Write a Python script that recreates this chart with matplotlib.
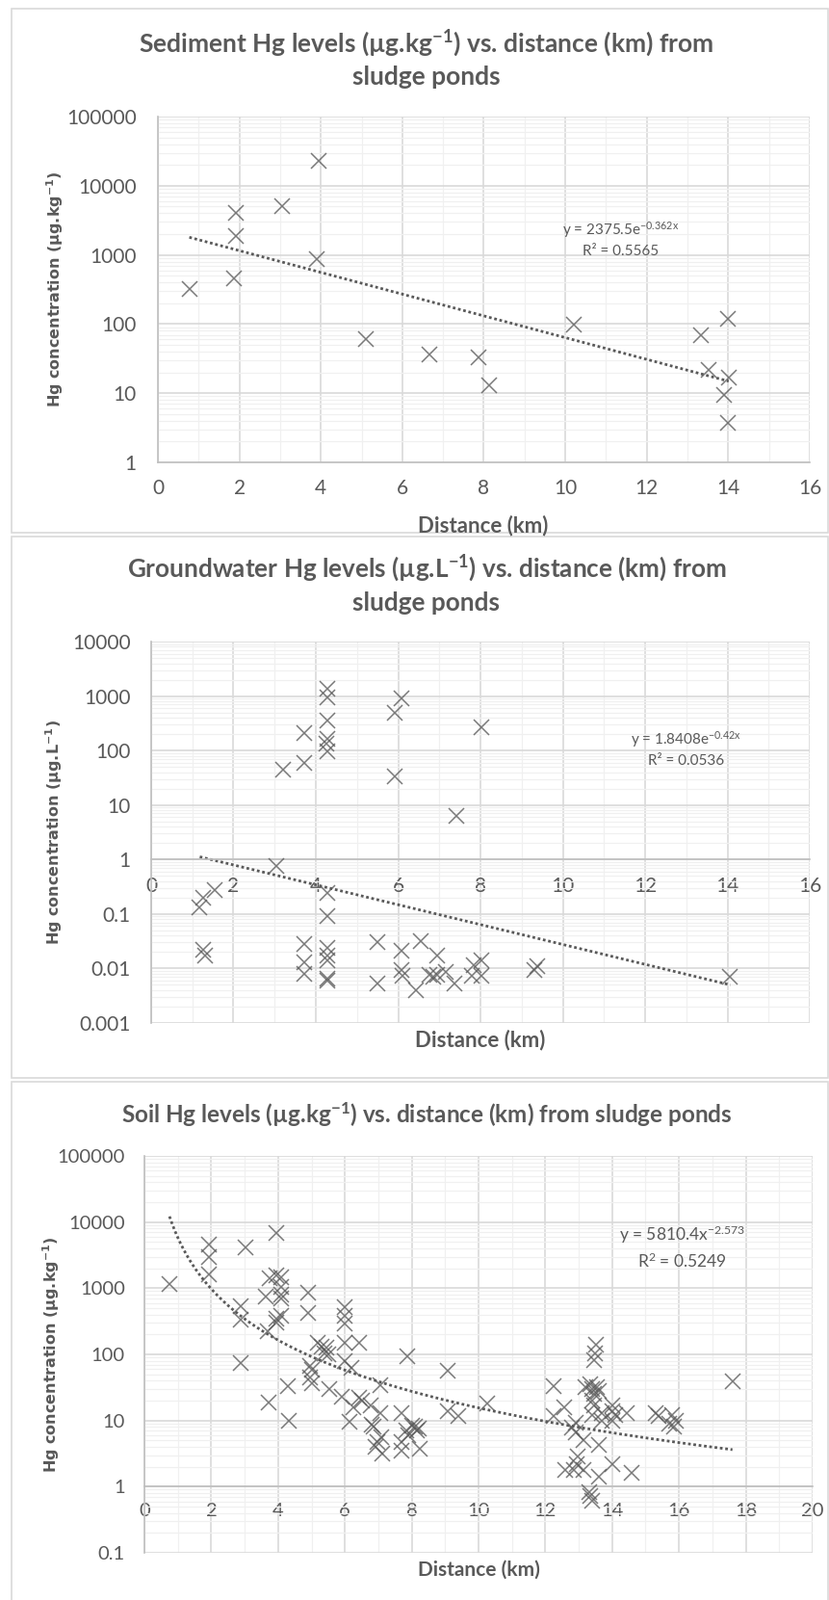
import numpy as np
import matplotlib
matplotlib.use('Agg')
import matplotlib.pyplot as plt
from matplotlib.ticker import LogLocator, MultipleLocator, FuncFormatter, NullFormatter
from matplotlib.patches import Rectangle

plt.rcParams['font.family'] = ['Lato', 'DejaVu Sans']
plt.rcParams['mathtext.default'] = 'regular'

# ---- sediment (ug/kg) ----
sed_dist = [0.77, 1.91, 1.91, 1.87, 3.04, 3.94, 3.90, 5.10, 6.66, 7.87, 8.12,
            10.21, 13.34, 13.52, 13.99, 14.01, 13.90, 14.00]
sed_hg = [318, 4100, 1860, 457, 5140, 23000, 860, 60, 36, 33, 12.9,
          99, 70, 22, 119, 17, 9.3, 3.7]

# ---- groundwater (ug/L) ----
gw_dist = [1.18, 1.26, 1.55, 1.26, 1.32, 3.03, 3.20, 3.73, 3.73, 3.73, 3.73, 3.73,
           4.27, 4.27, 4.29, 4.27, 4.25, 4.27, 4.27, 4.29, 4.27, 4.27, 4.29, 4.27, 4.29,
           5.49, 5.49, 5.92, 6.09, 5.92, 6.08, 6.08, 6.10, 6.43, 6.56, 6.94,
           6.75, 6.85, 6.95, 7.15, 7.37, 7.42, 7.84, 7.78, 8.03, 8.03, 8.02,
           9.30, 9.38, 14.07]
gw_hg = [0.13, 0.20, 0.27, 0.022, 0.017, 0.77, 45, 210, 59, 0.028, 0.013, 0.008,
         1350, 950, 360, 165, 135, 95, 0.24, 0.092, 0.024, 0.017, 0.014, 0.0065, 0.006,
         0.030, 0.0054, 490, 900, 33, 0.021, 0.0095, 0.0072, 0.0040, 0.032, 0.017,
         0.0075, 0.0070, 0.0078, 0.0085, 0.0054, 6.4, 0.0117, 0.0072, 0.014, 0.0072, 265,
         0.0093, 0.011, 0.0070]

# ---- soil (ug/kg) ----
soil_dist = [0.75,
             1.92, 1.92, 1.92,
             2.88, 2.88, 2.88,
             3.03,
             3.63, 3.70, 3.73, 3.75,
             3.94, 3.94, 3.94, 3.94,
             4.09, 4.09, 4.09, 4.09, 4.09,
             4.28, 4.31,
             4.90, 4.90, 4.95, 4.95, 5.02, 5.02,
             5.19, 5.30, 5.45, 5.40, 5.50, 5.53,
             6.00, 6.00, 6.00, 6.00, 6.00,
             6.20, 6.42, 5.91, 6.25, 6.13, 6.44, 6.50, 6.78,
             7.07, 7.07, 6.80, 6.85, 6.97, 6.92, 7.10, 7.12,
             7.70, 7.70, 7.70, 7.87, 7.85, 7.90, 8.00, 8.10, 8.15, 8.20, 8.25,
             9.09, 9.09, 9.40, 10.25,
             12.24, 12.24, 12.56, 12.80, 12.90, 12.90, 13.13, 12.97, 12.60, 12.85, 13.13, 12.95,
             13.52, 13.47, 13.50, 13.20, 13.35, 13.40, 13.55, 13.60, 13.45, 13.40, 13.45, 13.40,
             13.70, 13.70, 14.00, 14.00, 14.00, 14.10, 14.43,
             13.60, 14.00, 13.60, 14.59, 13.30, 13.35, 13.40,
             15.30, 15.40, 15.80, 15.90, 15.70, 15.85,
             17.60]
soil_hg = [1150,
           4600, 3000, 1600,
           530, 340, 73,
           4100,
           740, 225, 19, 1400,
           6900, 1550, 350, 300,
           1450, 1050, 800, 700, 380,
           33, 10,
           860, 430, 66, 45, 58, 36,
           150, 130, 125, 105, 100, 30,
           520, 380, 290, 150, 78,
           62, 150, 23, 16, 9.6, 22, 20, 17,
           34, 13, 8.7, 8.0, 4.7, 4.0, 5.6, 3.2,
           13, 4.7, 3.5, 92, 7.0, 6.0, 8.5, 8.0, 7.0, 7.6, 3.8,
           56, 13.8, 11.5, 17.8,
           33, 11.8, 15.8, 7.8, 9.3, 6.6, 5.0, 2.9, 1.8, 1.8, 1.8, 2.2,
           138, 83, 105, 32, 35, 30, 32, 28, 25, 20, 17, 12,
           13, 10, 14, 10, 17, 12, 13,
           4.3, 2.2, 1.4, 1.6, 0.82, 0.72, 0.62,
           13, 11.5, 12, 10, 9, 8,
           39]

# trendline coefficients shown on the chart
sed_a, sed_b = 2375.5, -0.362      # exponential
gw_a, gw_b = 1.8408, -0.42         # exponential
soil_a, soil_b = 5810.4, -2.573    # power

W, H = 862, 1661
TXT = '#595959'
fig = plt.figure(figsize=(W / 100, H / 100), dpi=100)


def fx(px):
    return px / W


def fy(py):
    return 1 - py / H


def make_ax(left, right, top, bottom):
    return fig.add_axes([fx(left), fy(bottom), (right - left) / W, (bottom - top) / H])


def style(ax, xmax, ymin, ymax, tick_size, ypad, xpad):
    ax.set_yscale('log')
    ax.set_xlim(0, xmax)
    ax.set_ylim(ymin, ymax)
    ax.xaxis.set_major_locator(MultipleLocator(2))
    ax.xaxis.set_minor_locator(MultipleLocator(1))
    ax.yaxis.set_major_locator(LogLocator(base=10, numticks=20))
    ax.yaxis.set_minor_locator(LogLocator(base=10, subs=np.arange(2, 10), numticks=20))
    ax.yaxis.set_minor_formatter(NullFormatter())
    ax.yaxis.set_major_formatter(FuncFormatter(lambda v, _: f'{v:.10g}'))
    ax.grid(which='major', color='#d9d9d9', lw=1.2)
    ax.grid(which='minor', color='#f0f0f0', lw=0.9)
    ax.set_axisbelow(True)
    ax.tick_params(which='both', length=0, colors=TXT, labelsize=tick_size)
    ax.tick_params(axis='y', pad=ypad)
    ax.tick_params(axis='x', pad=xpad)
    for s in ['top', 'right']:
        ax.spines[s].set_visible(False)
    ax.spines['left'].set_color('#bfbfbf')
    ax.spines['bottom'].set_color('#bfbfbf')
    ax.spines['bottom'].set_position(('data', 1))
    ax.spines['left'].set_linewidth(1.2)
    ax.spines['bottom'].set_linewidth(1.2)


def scatter(ax, x, y):
    ax.plot(x, y, linestyle='none', marker='x', ms=11, mew=1.1, color=TXT, alpha=0.8, zorder=3)


def ylabel(unit, xpix, ypix):
    fig.text(fx(xpix), fy(ypix), 'Hg concentration (µg.' + unit + '$^{-1}$)', rotation=90,
             ha='center', va='center', color=TXT, fontsize=11.5, fontweight='bold',
             family='DejaVu Sans')


def xlabel(xpix, ypix, size):
    fig.text(fx(xpix), fy(ypix), 'Distance (km)', ha='center', va='center', color=TXT,
             fontsize=size, fontweight='bold')


def title(lines, ypix, size):
    for ln, yy in zip(lines, ypix):
        fig.text(fx(443), fy(yy), ln, ha='center', va='center', color=TXT,
                 fontsize=size, fontweight='bold')


# chart area frames
for top, bot in [(9, 553), (557, 1119), (1123, 1670)]:
    fig.patches.append(Rectangle((fx(12), fy(bot)), (860 - 12) / W, (bot - top) / H,
                                 transform=fig.transFigure, fill=False,
                                 edgecolor='#d9d9d9', lw=1.2))

# ---------- panel 1: sediment ----------
ax1 = make_ax(164, 841, 121, 480)
style(ax1, 16, 1, 1e5, 15, 16, 12.5)
scatter(ax1, sed_dist, sed_hg)
xs = np.linspace(min(sed_dist), max(sed_dist), 100)
ax1.plot(xs, sed_a * np.exp(sed_b * xs), ls=(0, (1, 1)), color=TXT, lw=2, zorder=2)
ax1.text(11.35, 2300, 'y = 2375.5e$^{-0.362x}$', ha='center', va='center', color=TXT, fontsize=11)
ax1.text(11.35, 1120, 'R² = 0.5565', ha='center', va='center', color=TXT, fontsize=11)
title(['Sediment Hg levels (µg.kg$^{-1}$) vs. distance (km) from', 'sludge ponds'], [45, 80], 19)
ylabel('kg', 57, 300)
xlabel(502, 546, 16)

# ---------- panel 2: groundwater ----------
ax2 = make_ax(157, 841, 666, 1062)
style(ax2, 16, 1e-3, 1e4, 15, 15.5, 13)
scatter(ax2, gw_dist, gw_hg)
xs = np.linspace(min(gw_dist), max(gw_dist), 100)
ax2.plot(xs, gw_a * np.exp(gw_b * xs), ls=(0, (1, 1)), color=TXT, lw=2, zorder=2)
ax2.text(13.0, 158, 'y = 1.8408e$^{-0.42x}$', ha='center', va='center', color=TXT, fontsize=11)
ax2.text(13.0, 65, 'R² = 0.0536', ha='center', va='center', color=TXT, fontsize=11)
title(['Groundwater Hg levels (µg.L$^{-1}$) vs. distance (km) from', 'sludge ponds'], [590, 626], 18.8)
ylabel('L', 56, 864)
xlabel(499, 1080, 16)

# ---------- panel 3: soil ----------
ax3 = make_ax(150, 844, 1200, 1612)
style(ax3, 20, 0.1, 1e5, 14.5, 14.5, 12)
scatter(ax3, soil_dist, soil_hg)
xs = np.linspace(min(soil_dist), max(soil_dist), 200)
ax3.plot(xs, soil_a * xs ** soil_b, ls=(0, (1, 1)), color=TXT, lw=2, zorder=2)
ax3.text(16.1, 6400, 'y = 5810.4x$^{-2.573}$', ha='center', va='center', color=TXT, fontsize=12.5)
ax3.text(16.1, 2580, 'R$^{2}$ = 0.5249', ha='center', va='center', color=TXT, fontsize=12.5)
title(['Soil Hg levels (µg.kg$^{-1}$) vs. distance (km) from sludge ponds'], [1157], 17.5)
ylabel('kg', 53, 1406)
xlabel(497, 1630, 15)

fig.savefig('out.png', dpi=100)
